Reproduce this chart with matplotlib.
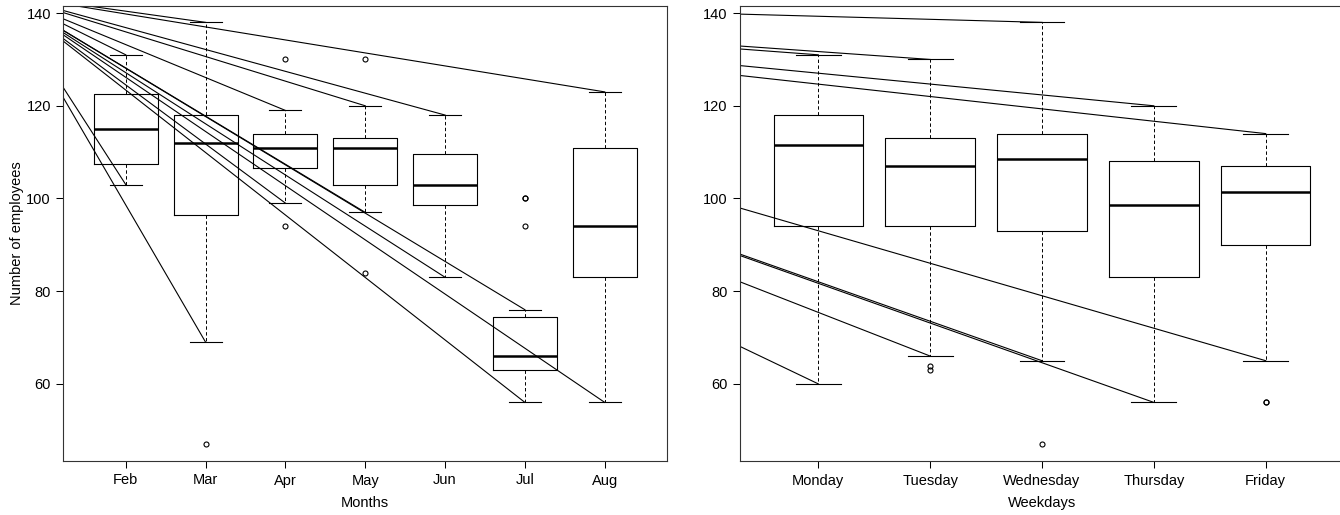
import matplotlib
matplotlib.use("Agg")
import matplotlib.pyplot as plt

plt.rcParams["font.family"] = ["Liberation Sans", "DejaVu Sans"]

# -------------------------------------------------------------------------
# Data (box statistics per group)
# -------------------------------------------------------------------------
months = ["Feb", "Mar", "Apr", "May", "Jun", "Jul", "Aug"]
m_q1 = [107.5, 96.5, 106.5, 103, 98.5, 63, 83]
m_med = [115, 112, 111, 111, 103, 66, 94]
m_q3 = [122.5, 118, 114, 113, 109.5, 74.5, 111]
m_lo = [103, 69, 99, 97, 83, 56, 56]
m_hi = [131, 138, 119, 120, 118, 76, 123]
m_fliers = [[], [47], [130, 94], [130, 84], [], [100, 100, 94], []]

weekdays = ["Monday", "Tuesday", "Wednesday", "Thursday", "Friday"]
d_q1 = [94, 94, 93, 83, 90]
d_med = [111.5, 107, 108.5, 98.5, 101.5]
d_q3 = [118, 113, 114, 108, 107]
d_lo = [60, 66, 65, 56, 65]
d_hi = [131, 130, 138, 120, 114]
d_fliers = [[], [63.8, 63.0], [47], [], [56, 56]]

y_ticks = [60, 80, 100, 120, 140]

W, H = 1340, 515
# common point (pixels from the top-left of the image) every stray line starts from
ORIGIN_PX = (3, -6)


def make_stats(labels, q1, med, q3, lo, hi, fliers):
    stats = []
    for i in range(len(labels)):
        stats.append({
            "label": labels[i],
            "q1": q1[i], "med": med[i], "q3": q3[i],
            "whislo": lo[i], "whishi": hi[i],
            "fliers": fliers[i],
        })
    return stats


def set_limits(ax, n):
    # R style: range padded by 4% on each side
    ax.set_xlim(0.5 - 0.04 * n, n + 0.5 + 0.04 * n)
    ax.set_ylim(47 - 0.04 * 91, 138 + 0.04 * 91)


def draw_panel(fig, rect, labels, q1, med, q3, lo, hi, fliers, xlabel, ylabel=None):
    ax = fig.add_axes(rect)
    n = len(labels)
    pos = list(range(1, n + 1))
    ax.bxp(
        make_stats(labels, q1, med, q3, lo, hi, fliers),
        positions=pos,
        widths=0.8,
        capwidths=0.4,
        boxprops=dict(color="black", linewidth=0.8),
        medianprops=dict(color="black", linewidth=1.8, solid_capstyle="butt"),
        whiskerprops=dict(color="black", linewidth=0.7, linestyle=(0, (3.5, 2.5))),
        capprops=dict(color="black", linewidth=0.8),
        flierprops=dict(marker="o", markerfacecolor="none", markeredgecolor="black",
                        markersize=3.6, markeredgewidth=0.8, linestyle="none"),
    )
    set_limits(ax, n)
    ax.set_xticks(pos)
    ax.set_xticklabels(labels)
    ax.set_yticks(y_ticks)
    ax.tick_params(direction="out", length=5, width=0.75, labelsize=10.5, pad=4,
                   colors="black")
    for sp in ax.spines.values():
        sp.set_linewidth(0.8)
        sp.set_color("#333333")

    ax.set_xlabel(xlabel, fontsize=10.5)
    ax.xaxis.label.set_va("center")
    ax.xaxis.set_label_coords(0.5, -0.092)
    if ylabel:
        ax.set_ylabel(ylabel, fontsize=10.5)
        ax.yaxis.label.set_va("center")
        ax.yaxis.set_label_coords(-0.077, 0.5)

    # stray lines from the common origin to every whisker end
    inv = ax.transData.inverted()
    ox, oy = inv.transform((ORIGIN_PX[0], H - ORIGIN_PX[1]))
    for i in range(n):
        for v in (hi[i], lo[i]):
            ax.plot([ox, pos[i]], [oy, v], color="black", linewidth=0.8)
    set_limits(ax, n)
    return ax


def main():
    fig = plt.figure(figsize=(W / 100, H / 100), dpi=100)

    bottom = 1 - 461 / H
    height = (461 - 5.5) / H
    draw_panel(fig, [63.5 / W, bottom, (667 - 63.5) / W, height],
               months, m_q1, m_med, m_q3, m_lo, m_hi, m_fliers,
               "Months", "Number of employees")
    draw_panel(fig, [740 / W, bottom, (1344 - 740) / W, height],
               weekdays, d_q1, d_med, d_q3, d_lo, d_hi, d_fliers,
               "Weekdays")

    fig.savefig("out.png", dpi=100)
    plt.close(fig)


if __name__ == "__main__":
    main()
